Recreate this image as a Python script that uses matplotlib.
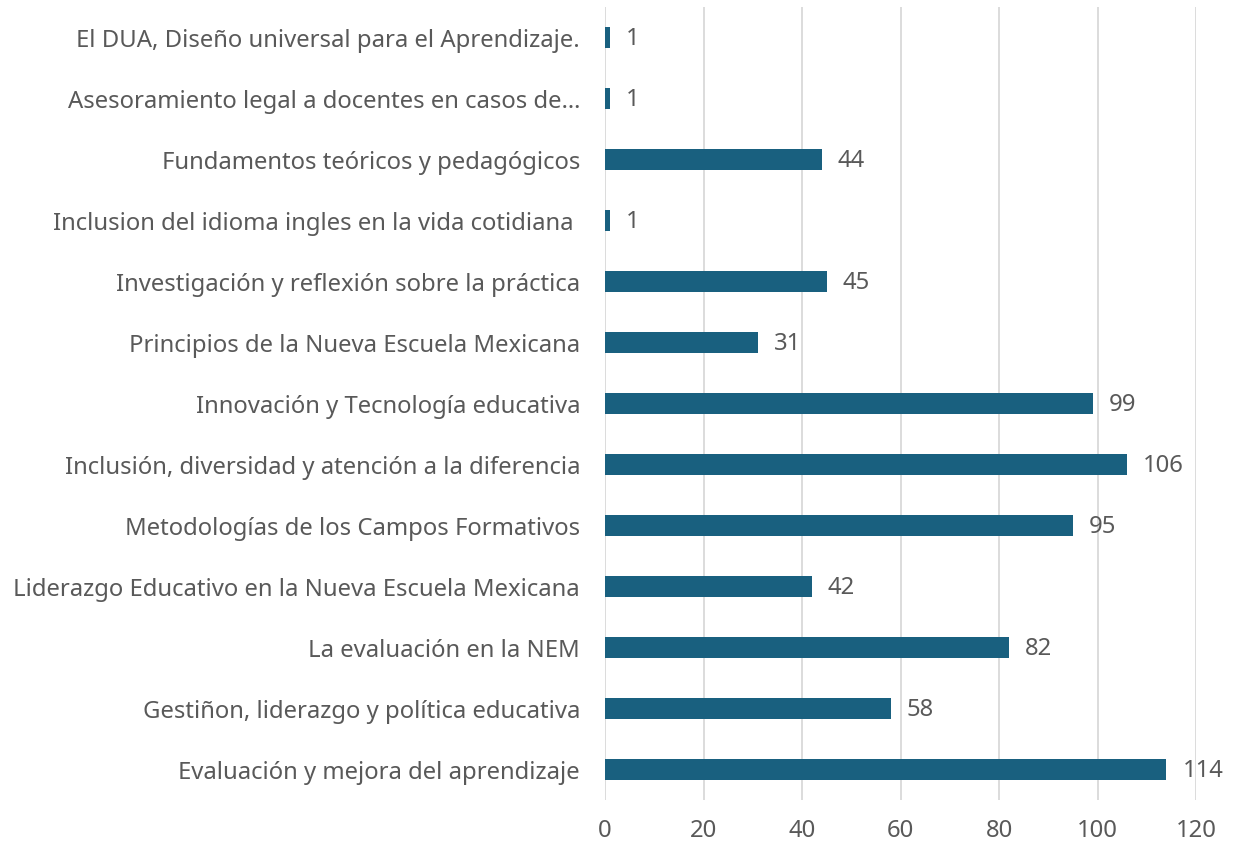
import matplotlib
matplotlib.use('Agg')
import matplotlib.pyplot as plt

categorias = [
    "El DUA, Diseño universal para el Aprendizaje.",
    "Asesoramiento legal a docentes en casos de…",
    "Fundamentos teóricos y pedagógicos",
    "Inclusion del idioma ingles en la vida cotidiana ",
    "Investigación y reflexión sobre la práctica",
    "Principios de la Nueva Escuela Mexicana",
    "Innovación y Tecnología educativa",
    "Inclusión, diversidad y atención a la diferencia",
    "Metodologías de los Campos Formativos",
    "Liderazgo Educativo en la Nueva Escuela Mexicana",
    "La evaluación en la NEM",
    "Gestiñon, liderazgo y política educativa",
    "Evaluación y mejora del aprendizaje",
]
valores = [1, 1, 44, 1, 45, 31, 99, 106, 95, 42, 82, 58, 114]
ticks_x = [0, 20, 40, 60, 80, 100, 120]

gris = '#595959'
plt.rcParams['font.family'] = ['Noto Sans', 'DejaVu Sans']
fs = 17.2

fig = plt.figure(figsize=(12.33, 8.44), dpi=100)
ax = fig.add_axes([0.4907, 0.0521, 0.4793, 0.9396])

pos = list(range(len(categorias)))
ax.barh(pos, valores, height=0.35, color='#19607f', zorder=3)
for p, v in zip(pos, valores):
    ax.annotate(str(v), (v, p), xytext=(11.5, -1), textcoords='offset points',
                va='center', ha='left', fontsize=fs, color=gris)

ax.set_yticks(pos)
ax.set_yticklabels(categorias)
ax.set_ylim(len(categorias) - 0.5, -0.5)
ax.set_xlim(0, 120)
ax.set_xticks(ticks_x)
ax.grid(axis='x', color='#d9d9d9', lw=1.3, zorder=0)
ax.tick_params(axis='both', length=0, labelsize=fs, labelcolor=gris)
ax.tick_params(axis='y', pad=18)
ax.tick_params(axis='x', pad=14)
for s in ax.spines.values():
    s.set_visible(False)

plt.savefig('out.png')
